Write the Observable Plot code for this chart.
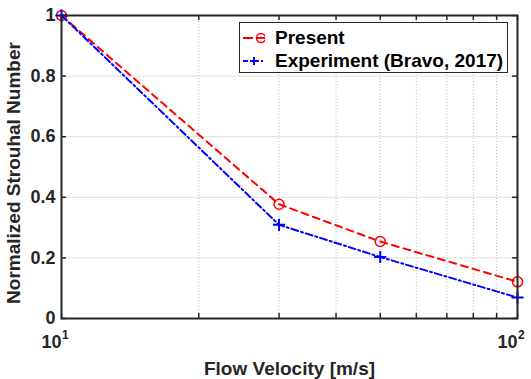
<!DOCTYPE html>
<html>
<head>
<meta charset="utf-8">
<script src="https://cdn.jsdelivr.net/npm/d3@7"></script>
<script src="https://cdn.jsdelivr.net/npm/@observablehq/plot@0.6"></script>
<style>
  html, body { margin: 0; padding: 0; background: #fff; }
  #wrap { position: relative; width: 531px; height: 379px; font-family: "Liberation Sans", Arial, sans-serif; }
  #legend { position: absolute; left: 239px; top: 22px; width: 267px; height: 49px; border: 1.6px solid #262626; background: #fff; font-weight: bold; font-size: 19px; color: #000; }
  .row { position: absolute; left: 0; height: 22px; display: flex; align-items: center; white-space: nowrap; }
  .row svg { margin-left: 3px; margin-right: 10px; }
</style>
</head>
<body>
<div id="wrap"></div>
<script>
// Data
const velocity = [10, 30, 50, 100];
const present = [1, 0.377, 0.254, 0.121];
const experiment = [1, 0.309, 0.203, 0.069];
const seriesNames = ["Present", "Experiment (Bravo, 2017)"];
const yTicks = [0, 0.2, 0.4, 0.6, 0.8, 1];
const xTicks = [10, 20, 30, 40, 50, 60, 70, 80, 90, 100];
const xMinor = [20, 30, 40, 50, 60, 70, 80, 90];
const yGrid = [0.2, 0.4, 0.6, 0.8];
const xLabelTicks = [10, 100];
const xTickBase = "10";
const xTickExp = {10: "1", 100: "2"};

const presentData = velocity.map((v, i) => ({v, s: present[i]}));
const expData = velocity.map((v, i) => ({v, s: experiment[i]}));

const W = 531, H = 379;
const mt = 15, mr = 14, mb = 61, ml = 61;
const ph = H - mt - mb, pw = W - ml - mr;
const tl = 5;

const chart = Plot.plot({
  width: W, height: H,
  marginTop: mt, marginRight: mr, marginBottom: mb, marginLeft: ml,
  style: {fontFamily: "Liberation Sans, Arial, sans-serif", fontWeight: "bold", fontSize: "18px", color: "#262626", background: "#fff"},
  x: {type: "log", domain: [10, 100], axis: null},
  y: {domain: [0, 1]},
  marks: [
    // grid
    Plot.tickY(yGrid, {y: d => d, stroke: "#dedede", strokeWidth: 1}),
    Plot.tickX(xMinor, {x: d => d, stroke: "#bdbdbd", strokeWidth: 1, strokeDasharray: "1,2"}),
    // inward ticks
    Plot.tickX(xTicks, {x: d => d, stroke: "#262626", strokeWidth: 1.5, insetTop: ph - tl}),
    Plot.tickX(xTicks, {x: d => d, stroke: "#262626", strokeWidth: 1.5, insetBottom: ph - tl}),
    Plot.tickY(yTicks, {y: d => d, stroke: "#262626", strokeWidth: 1.5, insetRight: pw - tl}),
    Plot.tickY(yTicks, {y: d => d, stroke: "#262626", strokeWidth: 1.5, insetLeft: pw - tl}),
    // y tick labels
    Plot.axisY(yTicks, {tickSize: 0, tickPadding: 6, label: null, tickFormat: d => String(d), fill: "#262626"}),
    // x tick labels: 10 with superscript exponent
    Plot.text(xLabelTicks, {x: d => d, frameAnchor: "bottom", text: () => xTickBase, textAnchor: "end", lineAnchor: "middle", dy: 24, dx: 0, fontSize: 18, fontWeight: "bold", fill: "#262626"}),
    Plot.text(xLabelTicks, {x: d => d, frameAnchor: "bottom", text: d => xTickExp[d], textAnchor: "start", lineAnchor: "middle", dy: 17, dx: 0.5, fontSize: 12, fontWeight: "bold", fill: "#262626"}),
    // data
    Plot.line(presentData, {x: "v", y: "s", stroke: "#ff0000", strokeWidth: 2, strokeDasharray: "7,5"}),
    Plot.dot(presentData, {x: "v", y: "s", stroke: "#ff0000", strokeWidth: 1.5, r: 5, symbol: "circle"}),
    Plot.line(expData, {x: "v", y: "s", stroke: "#0000ff", strokeWidth: 2, strokeDasharray: "7,3,2,3"}),
    Plot.dot(expData, {x: "v", y: "s", stroke: "#0000ff", strokeWidth: 2, r: 4, symbol: "plus"}),
    // frame
    Plot.frame({stroke: "#262626", strokeWidth: 2}),
    // axis titles
    Plot.text(["Flow Velocity [m/s]"], {frameAnchor: "bottom", dy: 50, text: d => d, textAnchor: "middle", fontSize: 19, fontWeight: "bold", fill: "#262626", lineAnchor: "middle"}),
    Plot.text(["Normalized Strouhal Number"], {frameAnchor: "left", dx: -48, dy: 6, rotate: -90, text: d => d, textAnchor: "middle", fontSize: 19, fontWeight: "bold", fill: "#262626", lineAnchor: "middle"})
  ]
});

const wrap = document.getElementById("wrap");
wrap.appendChild(chart);

// legend
const legend = document.createElement("div");
legend.id = "legend";
const samples = [
  `<svg width="22" height="14"><line x1="0" y1="7" x2="10" y2="7" stroke="#ff0000" stroke-width="2"/><line x1="14" y1="7" x2="22" y2="7" stroke="#ff0000" stroke-width="2"/><circle cx="18" cy="7" r="4.5" fill="none" stroke="#ff0000" stroke-width="1.5"/></svg>`,
  `<svg width="22" height="14"><line x1="0" y1="7" x2="22" y2="7" stroke="#0000ff" stroke-width="2" stroke-dasharray="5,2,2,2"/><line x1="11" y1="3" x2="11" y2="11" stroke="#0000ff" stroke-width="2"/><line x1="7" y1="7" x2="15" y2="7" stroke="#0000ff" stroke-width="2"/></svg>`
];
seriesNames.forEach((name, i) => {
  const row = document.createElement("div");
  row.className = "row";
  row.style.top = (4 + i * 23) + "px";
  row.innerHTML = samples[i] + `<span>${name}</span>`;
  legend.appendChild(row);
});
wrap.appendChild(legend);
</script>
</body>
</html>
